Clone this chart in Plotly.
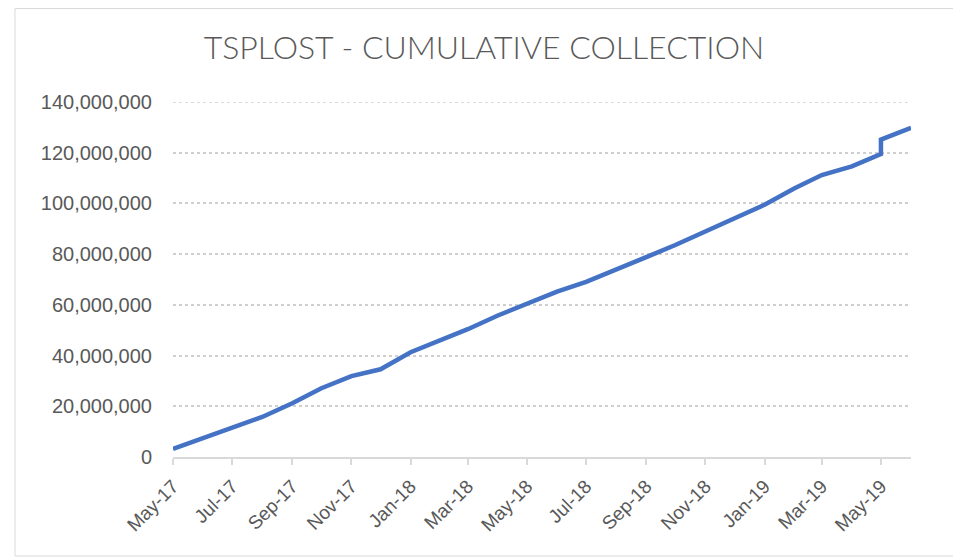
import plotly.graph_objects as go

# Data (cumulative collection, dollars)
dates = ["2017-05-01", "2017-06-01", "2017-07-01", "2017-08-01", "2017-09-01", "2017-10-01",
         "2017-11-01", "2017-12-01", "2018-01-01", "2018-02-01", "2018-03-01", "2018-04-01",
         "2018-05-01", "2018-06-01", "2018-07-01", "2018-08-01", "2018-09-01", "2018-10-01",
         "2018-11-01", "2018-12-01", "2019-01-01", "2019-02-01", "2019-03-01", "2019-04-01",
         "2019-05-01", "2019-05-01", "2019-06-01"]
collection = [3.2e6, 7.4e6, 11.9e6, 15.8e6, 21.2e6, 27.1e6,
              31.9e6, 34.6e6, 41.3e6, 46.1e6, 50.4e6, 55.8e6,
              60.6e6, 65.2e6, 69.1e6, 73.8e6, 78.8e6, 83.6e6,
              88.8e6, 94.3e6, 99.5e6, 106.0e6, 111.2e6, 114.6e6,
              119.5e6, 125.2e6, 129.8e6]
y_max = 140e6
title_text = "TSPLOST - CUMULATIVE COLLECTION"

# page has an 8px body margin; positions below are in figure coords
OFF = 8
W, H = 961, 558
ml, mt = 173 - OFF, 102 - OFF
mr = W - (911 - OFF)
mb = H - (457 - OFF)
pw, ph = W - ml - mr, H - mt - mb

fig = go.Figure()
fig.add_trace(go.Scatter(x=dates, y=collection, mode="lines",
                         line=dict(color="#4472C4", width=4.5),
                         hoverinfo="x+y", showlegend=False))

gray = "#595959"
grid = "#cfcfcf"
fig.update_layout(
    width=W, height=H,
    margin=dict(l=ml, r=mr, t=mt, b=mb),
    paper_bgcolor="white", plot_bgcolor="white",
    title=dict(text=title_text, x=(484 - OFF) / W, xref="container", xanchor="center",
               y=1 - (48 - OFF) / H, yref="container", yanchor="middle",
               font=dict(family="Lato, Liberation Sans, sans-serif", weight=300,
                         size=32, color=gray)),
    font=dict(family="Liberation Sans, Arial, sans-serif", color=gray, size=20),
    xaxis=dict(type="date", range=["2017-05-01", "2019-06-01"],
               tick0="2017-05-01", dtick="M2", tickformat="%b-%y",
               tickangle=-45, showgrid=False, showline=True,
               linecolor="#d9d9d9", linewidth=1.5,
               ticks="outside", ticklen=6, tickcolor="#d9d9d9", tickwidth=1.5,
               ticklabelstandoff=3,
               tickfont=dict(size=19, color=gray), zeroline=False),
    yaxis=dict(range=[0, y_max], dtick=20e6, tickformat=",d",
               showgrid=True, gridcolor=grid, griddash="dot", gridwidth=1.5,
               zeroline=False, showline=False, ticks="",
               ticklabelstandoff=20,
               tickfont=dict(size=20, color=gray)),
    shapes=[dict(type="rect", xref="paper", yref="paper",
                 x0=(15 - OFF - ml) / pw, x1=(958 - OFF - ml) / pw,
                 y0=-(548 - (H - mb)) / ph, y1=((H - mb) - 0.5) / ph,
                 line=dict(color="#d9d9d9", width=1), layer="below"),
            dict(type="line", xref="paper", yref="y", x0=0, x1=1, y0=y_max, y1=y_max,
                 line=dict(color=grid, width=1.5, dash="dot"), layer="below")],
)

fig.write_html("out.html")
